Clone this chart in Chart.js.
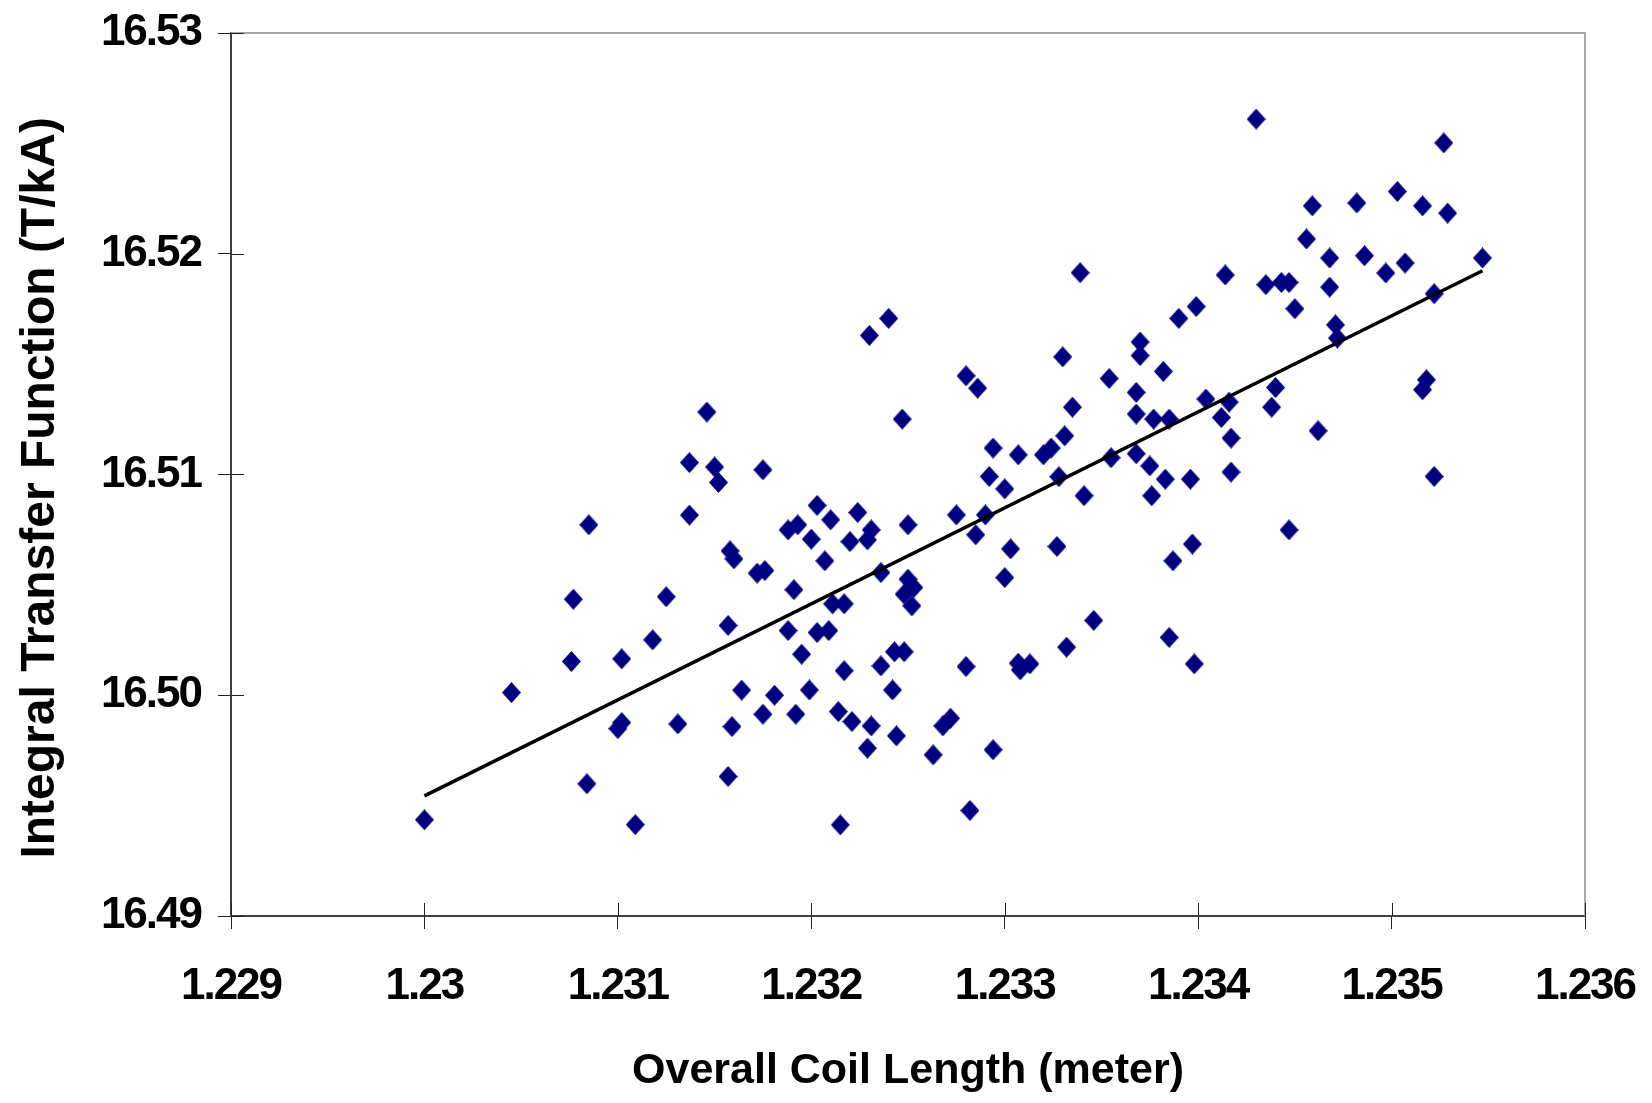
<!DOCTYPE html>
<html>
<head>
<meta charset="utf-8">
<title>Integral Transfer Function vs Overall Coil Length</title>
<script src="https://cdn.jsdelivr.net/npm/chart.js@4.4.1/dist/chart.umd.min.js"></script>
<style>
  html, body { margin: 0; padding: 0; background: #fff; }
  #wrap { width: 1652px; height: 1103px; position: relative; }
</style>
</head>
<body>
<div id="wrap"><canvas id="coilChart"></canvas></div>
<script>
// Overall coil length (meter)
const coilLength = [
  1.23146, 1.23137, 1.23150, 1.23152, 1.23175, 1.23085, 1.23137, 1.23158, 1.23160, 1.23172,
  1.23176, 1.23077, 1.23125, 1.23157, 1.23118, 1.23076, 1.23102, 1.23045, 1.23164, 1.23181,
  1.23102, 1.23100, 1.23131, 1.23159, 1.23175, 1.23084, 1.23157, 1.23000, 1.23109, 1.23294,
  1.23307, 1.23320, 1.23324, 1.23331, 1.23355, 1.23368, 1.23375, 1.23292, 1.23300, 1.23328,
  1.23341, 1.23376, 1.23203, 1.23224, 1.23210, 1.23188, 1.23193, 1.23200, 1.23220, 1.23229,
  1.23231, 1.23250, 1.23275, 1.23290, 1.23285, 1.23303, 1.23327, 1.23207, 1.23236, 1.23250,
  1.23253, 1.23248, 1.23252, 1.23300, 1.23191, 1.23211, 1.23217, 1.23188, 1.23203, 1.23209,
  1.23346, 1.23195, 1.23243, 1.23248, 1.23217, 1.23236, 1.23280, 1.23307, 1.23313, 1.23308,
  1.23332, 1.23199, 1.23242, 1.23192, 1.23214, 1.23221, 1.23231, 1.23244, 1.23229, 1.23272,
  1.23268, 1.23263, 1.23294, 1.23282, 1.23215, 1.23339, 1.23240, 1.23230, 1.23330, 1.23370,
  1.23370, 1.23280, 1.23286, 1.23354, 1.23368, 1.23247, 1.23335, 1.23368, 1.23430, 1.23527,
  1.23459, 1.23482, 1.23503, 1.23516, 1.23529, 1.23456, 1.23468, 1.23486, 1.23497, 1.23507,
  1.23547, 1.23414, 1.23435, 1.23443, 1.23447, 1.23468, 1.23450, 1.23399, 1.23390, 1.23471,
  1.23472, 1.23522, 1.23382, 1.23518, 1.23516, 1.23404, 1.23416, 1.23412, 1.23440, 1.23438,
  1.23377, 1.23385, 1.23417, 1.23462, 1.23383, 1.23396, 1.23417, 1.23522, 1.23447, 1.23397,
  1.23387, 1.23385, 1.23398
];

// Integral transfer function (T/kA), same order as coilLength
const transferFn = [
  16.51283, 16.51054, 16.51034, 16.50964, 16.51021, 16.50772, 16.50816, 16.50654, 16.50618, 16.50553,
  16.50565, 16.50435, 16.50446, 16.50316, 16.50251, 16.50153, 16.50165, 16.50012, 16.50023, 16.50000,
  16.49876, 16.49849, 16.49870, 16.49858, 16.49914, 16.49599, 16.49632, 16.49436, 16.49414, 16.51120,
  16.51089, 16.51089, 16.51120, 16.51175, 16.51076, 16.51094, 16.51039, 16.50991, 16.50935, 16.50990,
  16.50904, 16.50904, 16.50860, 16.50828, 16.50795, 16.50749, 16.50772, 16.50707, 16.50696, 16.50704,
  16.50749, 16.50772, 16.50817, 16.50817, 16.50727, 16.50663, 16.50674, 16.50609, 16.50556, 16.50526,
  16.50488, 16.50458, 16.50405, 16.50533, 16.50478, 16.50414, 16.50414, 16.50293, 16.50284, 16.50293,
  16.50339, 16.50186, 16.50197, 16.50197, 16.50111, 16.50133, 16.50130, 16.50145, 16.50142, 16.50115,
  16.50218, 16.50024, 16.50024, 16.49914, 16.49926, 16.49881, 16.49861, 16.49816, 16.49760, 16.49896,
  16.49861, 16.49730, 16.49753, 16.49478, 16.49413, 16.51914, 16.51707, 16.51630, 16.51533, 16.51600,
  16.51539, 16.51447, 16.51391, 16.51435, 16.51372, 16.51251, 16.51305, 16.51274, 16.52610, 16.52502,
  16.52217, 16.52230, 16.52282, 16.52217, 16.52184, 16.52067, 16.51981, 16.51991, 16.51913, 16.51958,
  16.51981, 16.51904, 16.51860, 16.51870, 16.51870, 16.51849, 16.51751, 16.51761, 16.51707, 16.51678,
  16.51618, 16.51819, 16.51467, 16.51429, 16.51384, 16.51342, 16.51328, 16.51258, 16.51394, 16.51305,
  16.51251, 16.51251, 16.51165, 16.51198, 16.50979, 16.50979, 16.51011, 16.50991, 16.50749, 16.50685,
  16.50609, 16.50262, 16.50142
];

// linear trend line end points
const trendLength = [1.23000, 1.23547];
const trendFn = [16.49544, 16.51923];

const xTickValues = [1.229, 1.230, 1.231, 1.232, 1.233, 1.234, 1.235, 1.236];
const xTickLabels = ['1.229', '1.23', '1.231', '1.232', '1.233', '1.234', '1.235', '1.236'];
const yTickValues = [16.49, 16.50, 16.51, 16.52, 16.53];
const yTickLabels = ['16.49', '16.50', '16.51', '16.52', '16.53'];

const FONT = "'Liberation Sans', Arial, Helvetica, sans-serif";

// slightly tall navy diamond marker
function diamond(w, h, color) {
  const c = document.createElement('canvas');
  c.width = w; c.height = h;
  const g = c.getContext('2d');
  g.fillStyle = color;
  g.beginPath();
  g.moveTo(w / 2, 0);
  g.lineTo(w, h / 2);
  g.lineTo(w / 2, h);
  g.lineTo(0, h / 2);
  g.closePath();
  g.fill();
  return c;
}

// gray top/right frame + the inner half of each tick mark
const plotFrame = {
  id: 'plotFrame',
  afterDatasetsDraw(chart) {
    const { ctx, chartArea: a, scales } = chart;
    ctx.save();
    ctx.strokeStyle = '#a6a6a6';
    ctx.lineWidth = 2;
    ctx.beginPath();
    ctx.moveTo(a.left, a.top);
    ctx.lineTo(a.right, a.top);
    ctx.lineTo(a.right, a.bottom);
    ctx.stroke();

    ctx.strokeStyle = '#222';
    ctx.lineWidth = 1;
    ctx.beginPath();
    scales.y.ticks.forEach(t => {
      const py = Math.round(scales.y.getPixelForValue(t.value)) + 0.5;
      ctx.moveTo(a.left, py);
      ctx.lineTo(a.left + 13, py);
    });
    scales.x.ticks.forEach(t => {
      const px = Math.round(scales.x.getPixelForValue(t.value)) + 0.5;
      ctx.moveTo(px, a.bottom);
      ctx.lineTo(px, a.bottom - 13);
    });
    ctx.stroke();
    ctx.restore();
    // tick labels in the original are a bit condensed
    ctx.letterSpacing = '-2px';
  },
  afterDraw(chart) {
    chart.ctx.letterSpacing = '0px';
  }
};

const ctx = document.getElementById('coilChart').getContext('2d');
const points = coilLength.map((x, i) => ({ x: x, y: transferFn[i] }));
const trend = trendLength.map((x, i) => ({ x: x, y: trendFn[i] }));

new Chart(ctx, {
  type: 'scatter',
  data: {
    datasets: [
      {
        label: 'Measured',
        data: points,
        pointStyle: diamond(19, 21, '#000080'),
        pointRadius: 10,
        pointHoverRadius: 10,
        order: 2
      },
      {
        label: 'Linear fit',
        type: 'line',
        data: trend,
        borderColor: '#000',
        borderWidth: 3.5,
        pointRadius: 0,
        fill: false,
        order: 1
      }
    ]
  },
  options: {
    responsive: true,
    maintainAspectRatio: false,
    animation: false,
    layout: { padding: { top: 33, right: 67, left: 0, bottom: 0 } },
    plugins: {
      legend: { display: false },
      tooltip: { enabled: false }
    },
    scales: {
      x: {
        type: 'linear',
        min: 1.229,
        max: 1.236,
        afterBuildTicks: s => { s.ticks = xTickValues.map(v => ({ value: v })); },
        afterFit: s => {
          s.height = 187;
          s.paddingLeft = 0;
          s.paddingRight = 0;
        },
        grid: {
          drawOnChartArea: false,
          drawTicks: true,
          tickLength: 13,
          tickWidth: 1,
          tickColor: '#222'
        },
        border: { display: true, color: '#404040', width: 2 },
        ticks: {
          z: 1,
          autoSkip: false,
          maxRotation: 0,
          padding: 36,
          color: '#000',
          font: { family: FONT, size: 44, weight: 'bold', lineHeight: 1 },
          callback: (value, index) => xTickLabels[index]
        },
        title: {
          display: true,
          text: 'Overall Coil Length (meter)',
          color: '#000',
          font: { family: FONT, size: 43, weight: 'bold', lineHeight: 1 },
          padding: { top: 0, bottom: 10 }
        }
      },
      y: {
        type: 'linear',
        min: 16.49,
        max: 16.53,
        afterBuildTicks: s => { s.ticks = yTickValues.map(v => ({ value: v })); },
        afterFit: s => {
          s.width = 231;
          s.paddingTop = 0;
          s.paddingBottom = 0;
        },
        grid: {
          drawOnChartArea: false,
          drawTicks: true,
          tickLength: 13,
          tickWidth: 1,
          tickColor: '#222'
        },
        border: { display: true, color: '#404040', width: 2 },
        ticks: {
          z: 1,
          padding: 17,
          color: '#000',
          font: { family: FONT, size: 44, weight: 'bold', lineHeight: 1 },
          callback: (value, index) => yTickLabels[index]
        },
        title: {
          display: true,
          // two trailing spaces nudge the rotated title down like the original
          text: 'Integral Transfer Function (T/kA)  ',
          color: '#000',
          font: { family: FONT, size: 48, weight: 'bold', lineHeight: 1 },
          padding: { top: 17, bottom: 0 }
        }
      }
    }
  },
  plugins: [plotFrame]
});
</script>
</body>
</html>
